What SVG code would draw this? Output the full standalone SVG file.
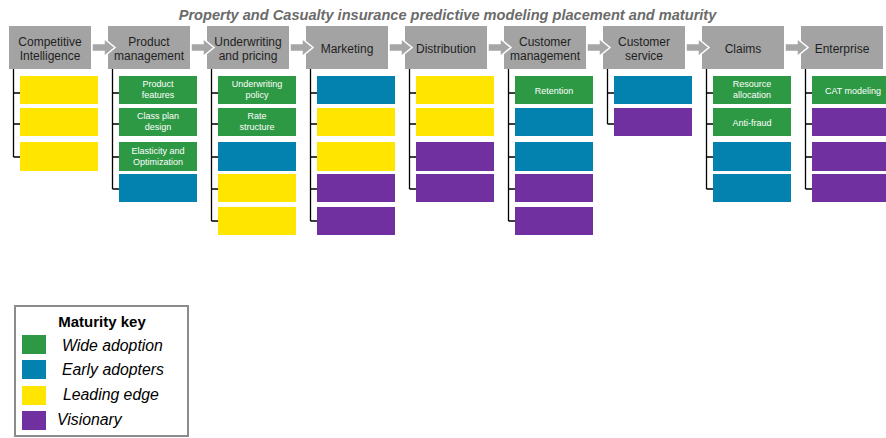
<svg xmlns="http://www.w3.org/2000/svg" width="886" height="438" viewBox="0 0 886 438">
<style>
.hdr{fill:#A3A3A3}
.hl{font-family:"Liberation Sans",Arial,sans-serif;font-size:12px;fill:#1f1f1f;text-anchor:middle}
.bt{font-family:"Liberation Sans",Arial,sans-serif;font-size:9px;fill:#ffffff;text-anchor:middle}
.g{fill:#2E9944}.b{fill:#0382B0}.y{fill:#FFE500}.p{fill:#7030A0}
.ln{stroke:#000;stroke-width:1.3;fill:none}
.arr{fill:#A6A6A6;stroke:#fff;stroke-width:1.5;stroke-linejoin:miter}
.lg{font-family:"Liberation Sans",Arial,sans-serif;font-size:15px;fill:#000}
.li{font-family:"Liberation Sans",Arial,sans-serif;font-size:15.8px;font-style:italic;fill:#000}
</style>
<text x="447.5" y="20" font-family="'Liberation Sans',Arial,sans-serif" font-size="14.6" font-weight="bold" font-style="italic" fill="#6b6b6b" text-anchor="middle">Property and Casualty insurance predictive modeling placement and maturity</text>

<g id="connectors">
<path class="ln" d="M13.5 69V157M13.5 93H20M13.5 124H20M13.5 157H20"/>
<path class="ln" d="M112.5 69V189M112.5 93H119M112.5 124H119M112.5 157H119M112.5 189H119"/>
<path class="ln" d="M211.5 69V221M211.5 93H218M211.5 124H218M211.5 157H218M211.5 189H218M211.5 221H218"/>
<path class="ln" d="M310.5 69V221M310.5 93H317M310.5 124H317M310.5 157H317M310.5 189H317M310.5 221H317"/>
<path class="ln" d="M409.5 69V189M409.5 93H416M409.5 124H416M409.5 157H416M409.5 189H416"/>
<path class="ln" d="M508.5 69V221M508.5 93H515M508.5 124H515M508.5 157H515M508.5 189H515M508.5 221H515"/>
<path class="ln" d="M607.5 69V124M607.5 93H614M607.5 124H614"/>
<path class="ln" d="M706.5 69V189M706.5 93H713M706.5 124H713M706.5 157H713M706.5 189H713"/>
<path class="ln" d="M805.5 69V189M805.5 93H812M805.5 124H812M805.5 157H812M805.5 189H812"/>
</g>

<g id="col1">
<rect class="hdr" x="9" y="26" width="82" height="43"/>
<text class="hl" x="50" y="45.5">Competitive</text>
<text class="hl" x="50" y="59.5">Intelligence</text>
<rect class="y" x="20" y="76" width="78" height="28"/>
<rect class="y" x="20" y="108" width="78" height="28"/>
<rect class="y" x="20" y="142" width="78" height="29"/>
</g>

<g id="col2">
<rect class="hdr" x="108" y="26" width="82" height="43"/>
<text class="hl" x="149" y="45.5">Product</text>
<text class="hl" x="149" y="59.5">management</text>
<rect class="g" x="119" y="76" width="78" height="28"/>
<text class="bt" x="158" y="86.5">Product</text>
<text class="bt" x="158" y="97.5">features</text>
<rect class="g" x="119" y="108" width="78" height="28"/>
<text class="bt" x="158" y="119">Class plan</text>
<text class="bt" x="158" y="130">design</text>
<rect class="g" x="119" y="142" width="78" height="29"/>
<text class="bt" x="158" y="153.5">Elasticity and</text>
<text class="bt" x="158" y="164.5">Optimization</text>
<rect class="b" x="119" y="174" width="78" height="28"/>
</g>

<g id="col3">
<rect class="hdr" x="207" y="26" width="82" height="43"/>
<text class="hl" x="248" y="45.5">Underwriting</text>
<text class="hl" x="248" y="59.5">and pricing</text>
<rect class="g" x="218" y="76" width="78" height="28"/>
<text class="bt" x="257" y="86.5">Underwriting</text>
<text class="bt" x="257" y="97.5">policy</text>
<rect class="g" x="218" y="108" width="78" height="28"/>
<text class="bt" x="257" y="119">Rate</text>
<text class="bt" x="257" y="130">structure</text>
<rect class="b" x="218" y="142" width="78" height="29"/>
<rect class="y" x="218" y="174" width="78" height="28"/>
<rect class="y" x="218" y="207" width="78" height="28"/>
</g>

<g id="col4">
<rect class="hdr" x="306" y="26" width="82" height="43"/>
<text class="hl" x="347" y="52.5">Marketing</text>
<rect class="b" x="317" y="76" width="78" height="28"/>
<rect class="y" x="317" y="108" width="78" height="28"/>
<rect class="y" x="317" y="142" width="78" height="29"/>
<rect class="p" x="317" y="174" width="78" height="28"/>
<rect class="p" x="317" y="207" width="78" height="28"/>
</g>

<g id="col5">
<rect class="hdr" x="405" y="26" width="82" height="43"/>
<text class="hl" x="446" y="52.5">Distribution</text>
<rect class="y" x="416" y="76" width="78" height="28"/>
<rect class="y" x="416" y="108" width="78" height="28"/>
<rect class="p" x="416" y="142" width="78" height="29"/>
<rect class="p" x="416" y="174" width="78" height="28"/>
</g>

<g id="col6">
<rect class="hdr" x="504" y="26" width="82" height="43"/>
<text class="hl" x="545" y="45.5">Customer</text>
<text class="hl" x="545" y="59.5">management</text>
<rect class="g" x="515" y="76" width="78" height="28"/>
<text class="bt" x="554" y="93.5">Retention</text>
<rect class="b" x="515" y="108" width="78" height="28"/>
<rect class="b" x="515" y="142" width="78" height="29"/>
<rect class="p" x="515" y="174" width="78" height="28"/>
<rect class="p" x="515" y="207" width="78" height="28"/>
</g>

<g id="col7">
<rect class="hdr" x="603" y="26" width="82" height="43"/>
<text class="hl" x="644" y="45.5">Customer</text>
<text class="hl" x="644" y="59.5">service</text>
<rect class="b" x="614" y="76" width="78" height="28"/>
<rect class="p" x="614" y="108" width="78" height="28"/>
</g>

<g id="col8">
<rect class="hdr" x="702" y="26" width="82" height="43"/>
<text class="hl" x="743" y="52.5">Claims</text>
<rect class="g" x="713" y="76" width="78" height="28"/>
<text class="bt" x="752" y="86.5">Resource</text>
<text class="bt" x="752" y="97.5">allocation</text>
<rect class="g" x="713" y="108" width="78" height="28"/>
<text class="bt" x="752" y="125.5">Anti-fraud</text>
<rect class="b" x="713" y="142" width="78" height="29"/>
<rect class="b" x="713" y="174" width="78" height="28"/>
</g>

<g id="col9">
<rect class="hdr" x="801" y="26" width="82" height="43"/>
<text class="hl" x="842" y="52.5">Enterprise</text>
<rect class="g" x="812" y="76" width="78" height="28"/>
<text class="bt" x="853" y="93.5">CAT modeling</text>
<rect class="p" x="812" y="108" width="78" height="28"/>
<rect class="p" x="812" y="142" width="78" height="29"/>
<rect class="p" x="812" y="174" width="78" height="28"/>
</g>

<g id="arrows">
<polygon class="arr" points="92,43.5 104,43.5 104,38.5 115,47.5 104,56.5 104,51.5 92,51.5"/>
<polygon class="arr" points="191,43.5 203,43.5 203,38.5 214,47.5 203,56.5 203,51.5 191,51.5"/>
<polygon class="arr" points="290,43.5 302,43.5 302,38.5 313,47.5 302,56.5 302,51.5 290,51.5"/>
<polygon class="arr" points="389,43.5 401,43.5 401,38.5 412,47.5 401,56.5 401,51.5 389,51.5"/>
<polygon class="arr" points="488,43.5 500,43.5 500,38.5 511,47.5 500,56.5 500,51.5 488,51.5"/>
<polygon class="arr" points="587,43.5 599,43.5 599,38.5 610,47.5 599,56.5 599,51.5 587,51.5"/>
<polygon class="arr" points="686,43.5 698,43.5 698,38.5 709,47.5 698,56.5 698,51.5 686,51.5"/>
<polygon class="arr" points="785,43.5 797,43.5 797,38.5 808,47.5 797,56.5 797,51.5 785,51.5"/>
</g>

<g id="legend">
<rect x="15" y="306" width="173" height="130" fill="#fff" stroke="#8c8c8c" stroke-width="2"/>
<text class="lg" x="102" y="327" font-weight="bold" text-anchor="middle">Maturity key</text>
<rect class="g" x="22" y="335" width="24" height="19"/>
<text class="li" x="62" y="351">Wide adoption</text>
<rect class="b" x="22" y="360" width="24" height="19"/>
<text class="li" x="62" y="375">Early adopters</text>
<rect class="y" x="22" y="386" width="24" height="19"/>
<text class="li" x="63" y="400">Leading edge</text>
<rect class="p" x="22" y="411" width="24" height="19"/>
<text class="li" x="57" y="425">Visionary</text>
</g>
</svg>
